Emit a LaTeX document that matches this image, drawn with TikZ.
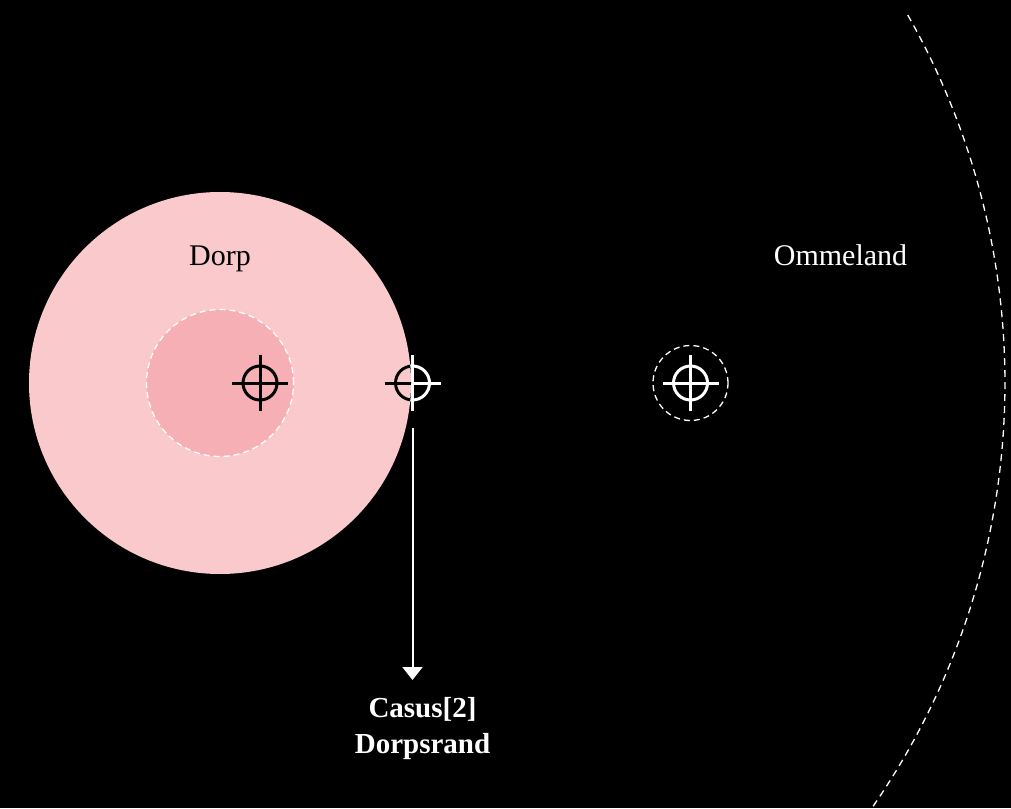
\documentclass[tikz,border=0pt]{standalone}
\usepackage{fontspec}
\setmainfont{Liberation Serif}
\usepackage{xcolor}
\usetikzlibrary{arrows.meta,positioning,calc}
\definecolor{dorppink}{HTML}{F9C9CC}
\definecolor{kernpink}{HTML}{F5AFB5}

% crosshair marker at a named coordinate
\newcommand{\richtkruis}[2]{%
  \draw[#2, line width=3pt] (#1) circle (17);
  \draw[#2, line width=3pt] ($(#1)+(-28,0)$) -- ($(#1)+(28,0)$);
  \draw[#2, line width=3pt] ($(#1)+(0,-28)$) -- ($(#1)+(0,28)$);}

\begin{document}
\begin{tikzpicture}[x=1pt, y=-1pt,
  lbl/.style={font=\fontsize{30}{36}\selectfont, align=center, inner sep=0pt},
  zone/.style={draw=white, line width=1.3pt, dash pattern=on 6pt off 4pt},
  arrow/.style={-{Triangle[length=13pt, width=20pt]}, line width=2pt, white}]

\fill[black] (0,0) rectangle (1011,808);
\useasboundingbox (0,0) rectangle (1011,808);

% zones
\node[circle, fill=dorppink, minimum size=382pt, inner sep=0pt] (dorp) at (220,383) {};
\node[circle, fill=kernpink, zone, minimum size=147pt, inner sep=0pt] (kern) at (220,383) {};
\node[circle, zone, minimum size=75pt, inner sep=0pt] (buiten) at (690.5,383) {};

\coordinate (centrum) at (260,383);
\coordinate (rand) at (412.5,383);
\coordinate (randvoet) at (412.5,428);

% outer boundary of the ommeland
\begin{scope}
  \clip (0,0) rectangle (1011,808);
  \draw[zone, dash pattern=on 7pt off 5pt] (centrum) ++(-29.6:745) arc[start angle=-29.6, end angle=36, radius=745];
\end{scope}

% labels
\node[lbl, anchor=base] (dorplabel) at (220,265) {Dorp};
\node[lbl, anchor=base, white] (ommeland) at (840.5,265) {Ommeland};
\node[lbl, anchor=north, white, font=\fontsize{29}{36}\selectfont\bfseries] (casus) at (422.5,697) {Casus[2]\\Dorpsrand};

% crosshairs
\richtkruis{centrum}{black}
\richtkruis{rand}{white}
\begin{scope}
  \clip (220,383) circle (191);
  \richtkruis{rand}{black}
\end{scope}
\richtkruis{buiten}{white}

\draw[arrow, shorten >=17pt] (randvoet) -- (randvoet |- casus.north);
\end{tikzpicture}
\end{document}
